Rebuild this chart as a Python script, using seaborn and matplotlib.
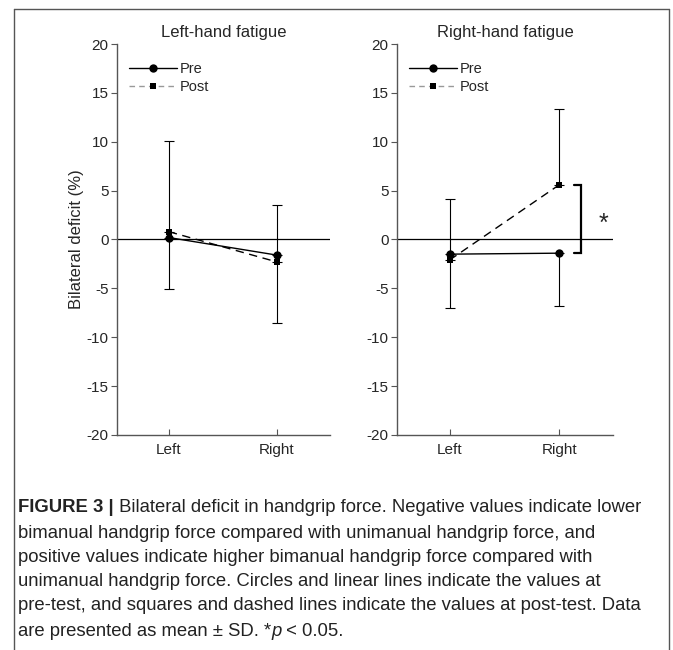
import matplotlib
matplotlib.use("Agg")
import matplotlib.pyplot as plt
from matplotlib.lines import Line2D
import pandas as pd
import seaborn as sns

sns.set_style("ticks")
plt.rcParams["font.family"] = ["Liberation Sans", "DejaVu Sans"]

# values
conditions = ["Left", "Right"]
titles = ["Left-hand fatigue", "Right-hand fatigue"]
pre_mean = [[0.2, -1.6], [-1.5, -1.4]]
post_mean = [[0.8, -2.3], [-2.1, 5.6]]
pre_sd = [[5.3, 6.9], [5.5, 5.4]]     # drawn downwards
post_sd = [[9.3, 5.8], [6.2, 7.8]]    # drawn upwards
yticks = [-20, -15, -10, -5, 0, 5, 10, 15, 20]

caption_lines = [
    "bimanual handgrip force compared with unimanual handgrip force, and",
    "positive values indicate higher bimanual handgrip force compared with",
    "unimanual handgrip force. Circles and linear lines indicate the values at",
    "pre-test, and squares and dashed lines indicate the values at post-test. Data",
]

fig = plt.figure(figsize=(6.73, 6.5), dpi=100)
axes = [fig.add_axes([0.1738, 0.3308, 0.3165, 0.6015]),
        fig.add_axes([0.5899, 0.3308, 0.3210, 0.6015])]

spine_col = "#555555"
for i, ax in enumerate(axes):
    pre = pd.DataFrame({"cond": conditions, "value": pre_mean[i]})
    post = pd.DataFrame({"cond": conditions, "value": post_mean[i]})
    sns.lineplot(data=pre, x="cond", y="value", ax=ax, color="black",
                 marker="o", markersize=6, lw=1, markeredgewidth=0)
    sns.lineplot(data=post, x="cond", y="value", ax=ax, color="black",
                 marker="s", markersize=5, lw=1, markeredgewidth=0)
    ax.lines[-1].set_linestyle((0, (6, 4)))
    ax.errorbar([0, 1], pre_mean[i], yerr=[pre_sd[i], [0, 0]], fmt="none",
                ecolor="black", elinewidth=0.8, capsize=3.5, capthick=0.8)
    ax.errorbar([0, 1], post_mean[i], yerr=[[0, 0], post_sd[i]], fmt="none",
                ecolor="black", elinewidth=0.8, capsize=3.5, capthick=0.8)
    ax.axhline(0, color="black", lw=0.9)

    ax.set_xlim(-0.48, 1.49)
    ax.set_ylim(-20, 20)
    ax.set_yticks(yticks)
    ax.set_yticklabels([str(t) for t in yticks])
    ax.set_xlabel("")
    ax.set_ylabel("")
    ax.set_title(titles[i], fontsize=12, pad=5)
    sns.despine(ax=ax)
    for s in ["left", "bottom"]:
        ax.spines[s].set_color(spine_col)
        ax.spines[s].set_linewidth(1)
    ax.tick_params(axis="y", direction="out", length=4, color=spine_col,
                   labelsize=11, pad=2)
    ax.tick_params(axis="x", direction="in", length=4, color=spine_col,
                   labelsize=11, pad=6)

    handles = [
        Line2D([], [], color="black", lw=1, marker="o", markersize=6,
               markeredgewidth=0),
        Line2D([], [], color="#999999", lw=1, ls=(0, (4, 3)), marker="s",
               markersize=5, markeredgewidth=0, markerfacecolor="black"),
    ]
    ax.legend(handles, ["Pre", "Post"], loc="upper left", frameon=False,
              bbox_to_anchor=(0.01, 0.98), fontsize=10.5, handlelength=3.3,
              handletextpad=0.15, labelspacing=0.3, borderaxespad=0.3)

axes[0].set_ylabel("Bilateral deficit (%)", fontsize=12, labelpad=2)

# significance bracket on the right-hand fatigue panel
ax = axes[1]
ax.plot([1.13, 1.20, 1.20, 1.13], [post_mean[1][1], post_mean[1][1],
                                    pre_mean[1][1], pre_mean[1][1]],
        color="black", lw=1.6, solid_joinstyle="miter", clip_on=False)
ax.text(1.40, 1.6, "*", fontsize=18, ha="center", va="center")

# caption frame
frame_col = "#555555"
H, W = 650.0, 673.0
fig.add_artist(Line2D([14 / W, 669 / W], [1 - 9 / H, 1 - 9 / H],
                      color=frame_col, lw=1))
fig.add_artist(Line2D([14 / W, 14 / W], [0, 1 - 9 / H], color=frame_col, lw=1))
fig.add_artist(Line2D([669 / W, 669 / W], [0, 1 - 9 / H], color=frame_col, lw=1))

# caption text
cap_col = "#222222"
cap_size = 13.3
x0 = 18 / W
line_y = [508, 533, 557, 582, 606, 631]
renderer = fig.canvas.get_renderer()


def run(parts, y):
    x = x0
    for txt, kw in parts:
        t = fig.text(x, 1 - y / H, txt, fontsize=cap_size, color=cap_col,
                     va="center", ha="left", **kw)
        bb = t.get_window_extent(renderer=renderer)
        x = bb.x1 / fig.bbox.width


run([("FIGURE 3 |", {"fontweight": "bold"}),
     (" Bilateral deficit in handgrip force. Negative values indicate lower", {})],
    line_y[0])
for k, line in enumerate(caption_lines):
    run([(line, {})], line_y[k + 1])
run([("are presented as mean \u00b1 SD. *", {}), ("p", {"style": "italic"}),
     (" < 0.05.", {})], line_y[5])

fig.savefig("out.png", dpi=100)
